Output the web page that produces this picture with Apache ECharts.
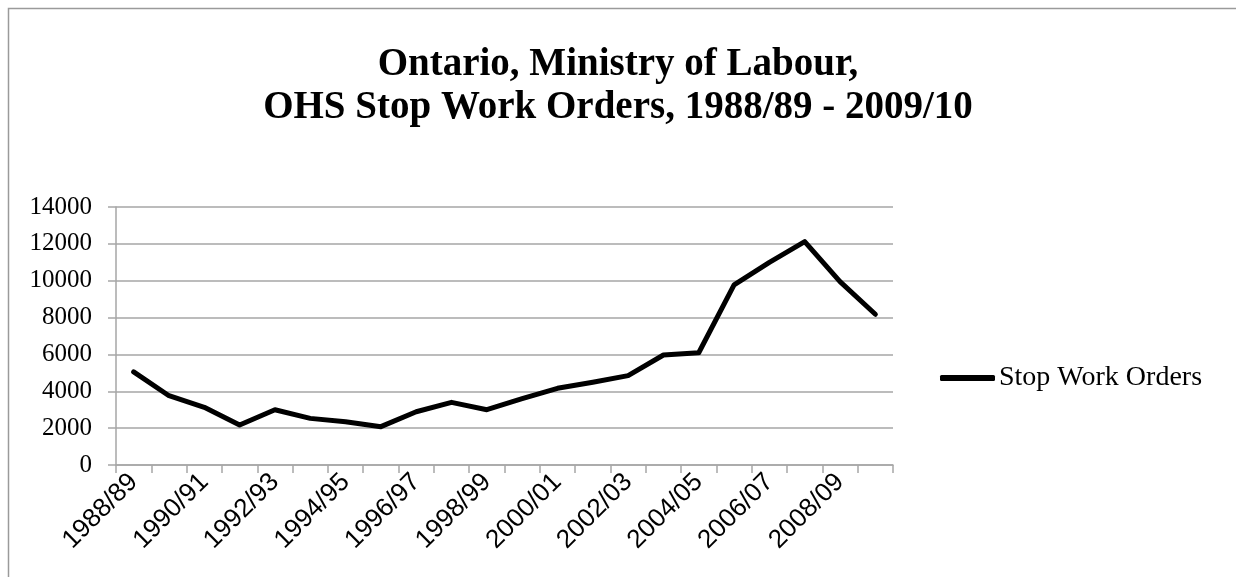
<!DOCTYPE html>
<html>
<head>
<meta charset="utf-8">
<script src="https://cdn.jsdelivr.net/npm/echarts@6/dist/echarts.min.js"></script>
<style>
html,body{margin:0;padding:0;background:#fff;}
#chart{width:1236px;height:577px;}
</style>
</head>
<body>
<div id="chart"></div>
<script>
const titleLines = ["Ontario, Ministry of Labour,", "OHS Stop Work Orders, 1988/89 - 2009/10"];
const seriesName = "Stop Work Orders";
const categories = ["1988/89","1989/90","1990/91","1991/92","1992/93","1993/94","1994/95","1995/96","1996/97","1997/98","1998/99","1999/00","2000/01","2001/02","2002/03","2003/04","2004/05","2005/06","2006/07","2007/08","2008/09","2009/10"];
const stopWorkOrders = [5050, 3760, 3130, 2170, 3000, 2530, 2350, 2080, 2890, 3400, 3000, 3600, 4160, 4490, 4850, 5970, 6090, 9770, 11000, 12120, 9950, 8180];
const yMin = 0, yMax = 14000, yStep = 2000;

const chart = echarts.init(document.getElementById('chart'), null, {renderer: 'canvas'});
const gray = '#a6a6a6';
chart.setOption({
  backgroundColor: '#ffffff',
  animation: false,
  graphic: [{
    type: 'rect', silent: true, z: -1,
    shape: {x: 8.5, y: 8.5, width: 1400, height: 800},
    style: {fill: 'none', stroke: '#9a9a9a', lineWidth: 1.5}
  }],
  title: {
    text: titleLines.join('\n'),
    left: 'center',
    top: 38,
    textStyle: {fontFamily: 'Liberation Serif', fontWeight: 'bold', fontSize: 39, lineHeight: 43, color: '#000'}
  },
  legend: {
    left: 935, top: 359,
    icon: 'roundRect',
    itemWidth: 55, itemHeight: 6, itemGap: 0,
    itemStyle: {color: '#000'},
    textStyle: {fontFamily: 'Liberation Serif', fontSize: 28, lineHeight: 28, color: '#000', padding: [0,0,0,-1]},
    data: [{name: seriesName}]
  },
  grid: {left: 116, right: 343, top: 207, bottom: 112, containLabel: false},
  xAxis: {
    type: 'category',
    data: categories,
    boundaryGap: true,
    axisLine: {lineStyle: {color: gray, width: 1.5}},
    axisTick: {show: true, interval: 0, length: 8, lineStyle: {color: gray, width: 1.5}},
    axisLabel: {interval: 1, rotate: 45, margin: 13, fontFamily: 'Liberation Sans', fontSize: 26, color: '#000'},
    splitLine: {show: false}
  },
  yAxis: {
    type: 'value',
    min: yMin, max: yMax, interval: yStep,
    axisLine: {show: true, lineStyle: {color: gray, width: 1.5}},
    axisTick: {show: true, length: 8, lineStyle: {color: gray, width: 1.5}},
    axisLabel: {margin: 24, fontFamily: 'Liberation Serif', fontSize: 25, color: '#000', formatter: v => String(v)},
    splitLine: {show: true, lineStyle: {color: gray, width: 1.5}}
  },
  series: [{
    name: seriesName,
    type: 'line',
    data: stopWorkOrders,
    showSymbol: false,
    symbol: 'none',
    color: '#000',
    lineStyle: {color: '#000', width: 5, cap: 'round', join: 'round'}
  }]
});
</script>
</body>
</html>
